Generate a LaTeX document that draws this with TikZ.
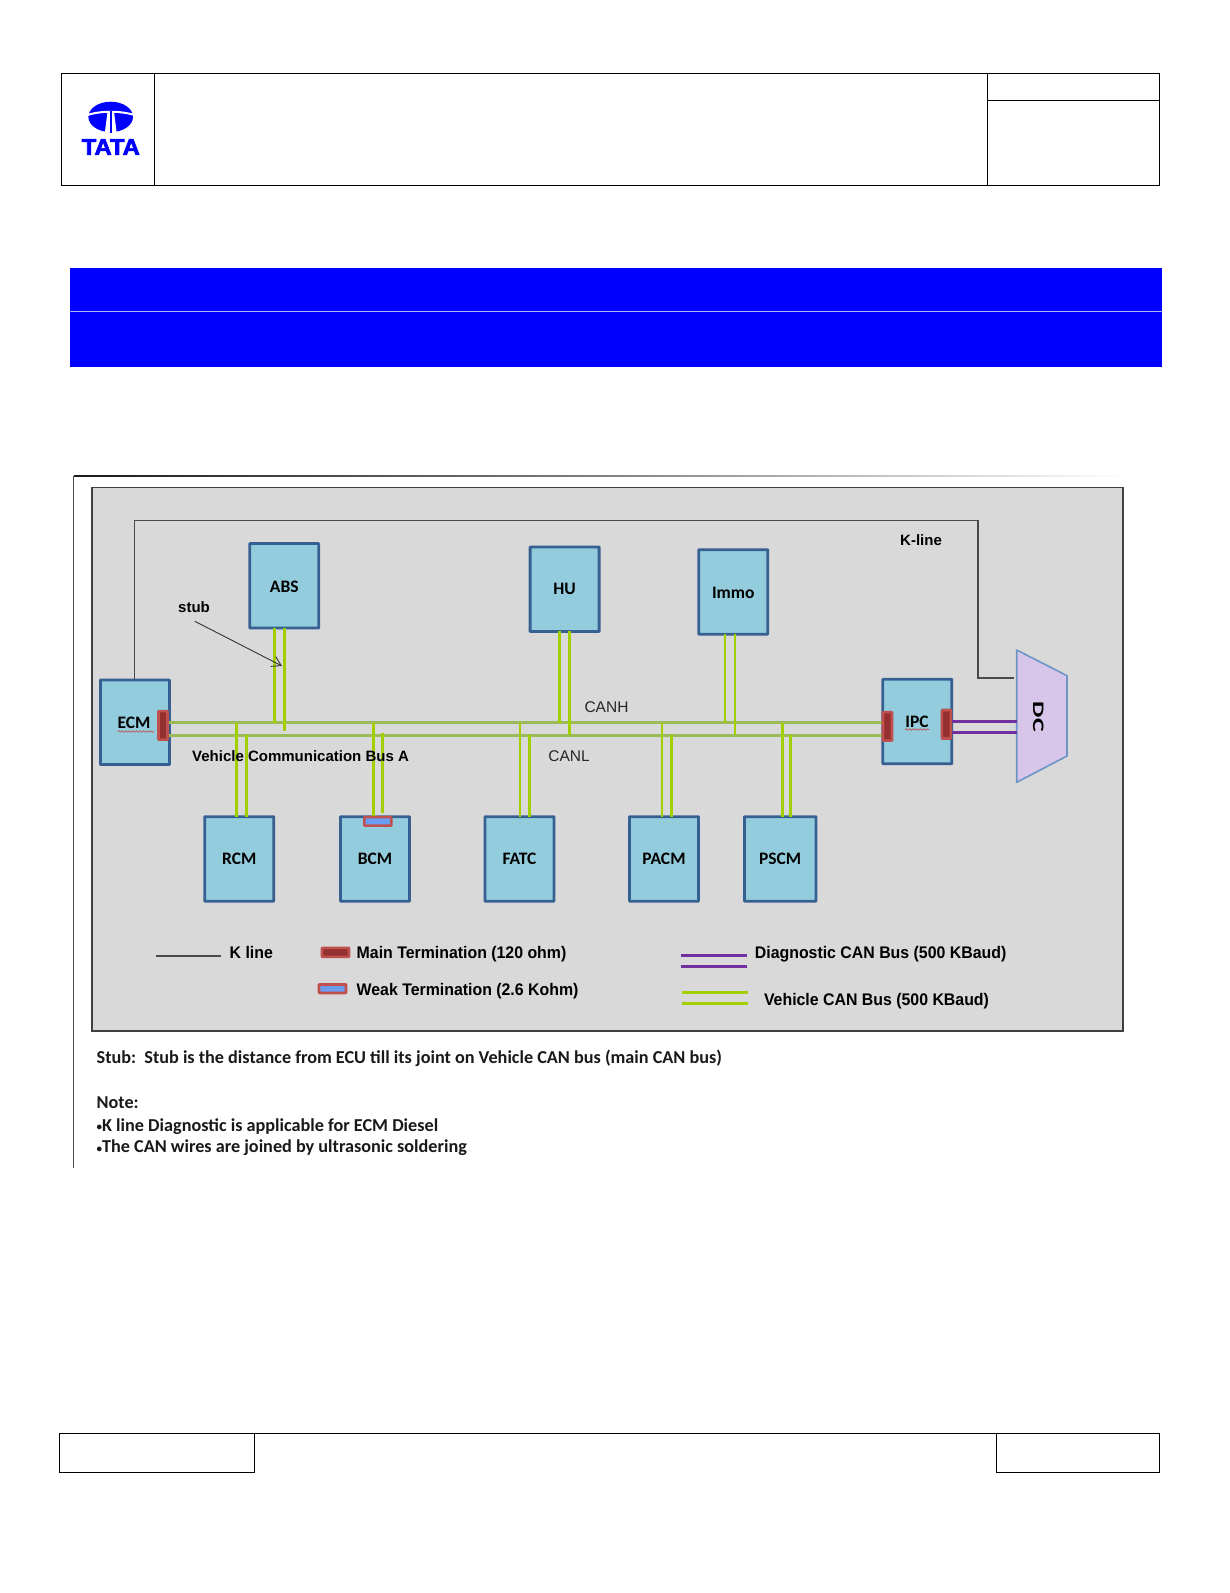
\documentclass[tikz,border=0pt]{standalone}
\usepackage{fontspec}
\setmainfont{Carlito}
\newfontfamily\arialf{Liberation Sans}
\newfontfamily\arialc[FakeStretch=0.945]{Liberation Sans}
\newfontfamily\logof[BoldFeatures={FakeBold=3}]{Liberation Sans}
\usetikzlibrary{calc,arrows.meta,decorations.pathmorphing}
\definecolor{tatablue}{HTML}{0000FF}
\definecolor{panelgray}{HTML}{D9D9D9}
\definecolor{boxfill}{HTML}{93CDDD}
\definecolor{boxline}{HTML}{376092}
\definecolor{busgreen}{HTML}{9BBB59}
\definecolor{stubgreen}{HTML}{A2CF00}
\definecolor{diagpurple}{HTML}{7030A0}
\definecolor{termred}{HTML}{C0504D}
\definecolor{termdark}{HTML}{953030}
\definecolor{weakblue}{HTML}{6C9BF2}
\definecolor{dcfill}{HTML}{D8C6EA}
\definecolor{dcline}{HTML}{6C94C4}
\definecolor{kgray}{HTML}{4A4A4A}
\tikzset{
  frameline/.style={draw=black,line width=0.9pt},
  unitbox/.style={draw=boxline,fill=boxfill,line width=2.8pt,minimum width=69pt,minimum height=84.5pt,inner sep=0pt,outer sep=0pt,rounded corners=0.5pt,font=\fontsize{17.5}{20}\selectfont\bfseries,text depth=0pt},
  termmain/.style={draw=termred,fill=termdark,line width=2.6pt,rounded corners=0.6pt,inner sep=0pt,outer sep=0pt},
  termweak/.style={draw=termred,fill=weakblue,line width=2.6pt,rounded corners=0.6pt,inner sep=0pt,outer sep=0pt},
  bus/.style={draw=busgreen,line width=2.7pt},
  stubw/.style={draw=stubgreen,line width=2.9pt},
  diag/.style={draw=diagpurple,line width=3pt},
  kline/.style={draw=kgray,line width=1.2pt},
  sanslabel/.style={font=\arialf\fontsize{15.5}{18}\selectfont,inner sep=0pt,text=black!85},
  legendtext/.style={font=\arialc\fontsize{16.8}{20}\selectfont\bfseries,inner sep=0pt,anchor=west,text=black},
  notetext/.style={font=\fontsize{18.2}{20}\selectfont\bfseries,inner sep=0pt,anchor=west,text=black!90},
  squiggle/.style={draw=termred,line width=0.7pt,decorate,decoration={snake,amplitude=0.8pt,segment length=3.5pt}}
}
\newcommand{\upstub}[3]{\draw[stubw] (#1,0 |- #2.south) -- (#1,0 |- #3);}
\newcommand{\downstub}[3]{\draw[stubw] (#1,0 |- #2) -- (#1,0 |- #3.north);}
\newcommand{\smallbul}{\raisebox{0.5pt}{\fontsize{11}{12}\selectfont•}}
\begin{document}
\begin{tikzpicture}[x=1pt,y=-1pt]
\useasboundingbox (0,0) rectangle (1230,1593);
\fill[white] (0,0) rectangle (1230,1593);
% header
\draw[frameline] (61,73.5) rectangle (1159.5,185);
\draw[frameline] (154.7,73.5) -- (154.7,185);
\draw[frameline] (987,73.5) -- (987,185);
\draw[frameline] (987,100) -- (1159.5,100);
% logo
\fill[tatablue] (110.7,116.9) ellipse [x radius=22.3,y radius=15.2];
\draw[white,line width=2pt] (86,115.5) .. controls (100,110.5) and (121,110.5) .. (136,115.5);
\fill[white] (107.5,112) -- (114,112) -- (117,135) -- (104.5,135) -- cycle;
\fill[tatablue] (109.9,111) rectangle (111.6,133);
\node[inner sep=0pt,text=tatablue] (logotext) at (110.8,147) {\resizebox{58pt}{15.5pt}{\logof\bfseries TATA}};
% blue bands
\fill[tatablue] (70,268) rectangle (1162,366.7);
\draw[white!70!tatablue,line width=0.3pt] (70,311) -- (1162,311);
% figure frame
\shade[left color=black!90,right color=black!50] (74,475.2) rectangle (600,476.2);
\shade[left color=black!50,right color=white] (600,475.2) rectangle (1127,476.2);
\draw[black!70,line width=0.8pt] (73.5,475.5) -- (73.5,1168);
% panel
\draw[draw=black!75,fill=panelgray,line width=1.8pt] (92,487.5) rectangle (1123,1031);
% k-line and boxes
\node[unitbox] (ABS) at (284.3,585.8) {\raisebox{-1pt}{ABS}};
\node[unitbox] (HU) at (564.6,589.2) {HU};
\node[unitbox] (Immo) at (733.3,591.9) {\raisebox{-1pt}{Immo}};
\node[unitbox] (ECM) at (134.9,722.2) {};
\node[unitbox] (IPC) at (917.3,721.5) {};
\node[unitbox] (RCM) at (239.3,858.9) {RCM};
\node[unitbox] (BCM) at (375,858.9) {BCM};
\node[unitbox] (FATC) at (519.5,858.9) {FATC};
\node[unitbox] (PACM) at (664,858.9) {PACM};
\node[unitbox,minimum width=71.5pt] (PSCM) at (780.2,858.9) {PSCM};
\node[font=\fontsize{17.5}{20}\selectfont\bfseries,inner sep=0pt] (ecmlabel) at (134,723) {ECM};
\node[font=\fontsize{17.5}{20}\selectfont\bfseries,inner sep=0pt] (ipclabel) at (917,722) {IPC};
\draw[squiggle] (118,731.5) -- (154,731.5);
\draw[squiggle] (905,729.5) -- (929,729.5);
% DC
\node[inner sep=0pt,outer sep=0pt,minimum width=1pt,minimum height=1pt] (DC) at (1042,716) {};
\draw[draw=dcline,fill=dcfill,line width=1.6pt,line join=round] (1016.7,650) -- (1067,675.7) -- (1067,756) -- (1016.7,782.3) -- cycle;
\node[inner sep=0pt,rotate=-90] (dclabel) at (1038.3,716.7) {\resizebox{30pt}{10.5pt}{\bfseries DC}};
% K line
\coordinate (kend) at (1014,678);
\draw[kline] (ECM.north) ++(-0.4,0) |- (978,520.7) |- (kend);
% bus
\coordinate (busH) at (880,722.7);
\coordinate (busL) at (880,735.3);
\draw[bus] (ECM.east |- busH) -- (IPC.west |- busH);
\draw[bus] (ECM.east |- busL) -- (IPC.west |- busL);
% stubs
\coordinate (absL) at (0,730.7);
\coordinate (bcmTop) at (0,733);
\upstub{274.7}{ABS}{busH}
\upstub{284.7}{ABS}{absL}
\upstub{559.6}{HU}{busH}
\upstub{569.8}{HU}{busL}
\upstub{725}{Immo}{busH}
\upstub{735}{Immo}{busL}
\downstub{236.7}{busH}{RCM}
\downstub{246.7}{busL}{RCM}
\downstub{373.3}{busH}{BCM}
\draw[stubw] (382.3,0 |- bcmTop) -- (382.3,813);
\downstub{520}{busH}{FATC}
\downstub{529.3}{busL}{FATC}
\downstub{662}{busH}{PACM}
\downstub{671.4}{busL}{PACM}
\downstub{782.3}{busH}{PSCM}
\downstub{790.3}{busL}{PSCM}
% terminators
\node[termmain,minimum width=9pt,minimum height=28.5pt] (tecm) at (163,725.3) {};
\node[termmain,minimum width=9pt,minimum height=28.5pt] (tipcl) at (887.5,726.3) {};
\node[termmain,minimum width=9pt,minimum height=28.5pt] (tipcr) at (946.3,724.2) {};
\node[termweak,minimum width=27pt,minimum height=8.5pt] (tbcm) at (377.8,821.3) {};
% diagnostic bus
\coordinate (diagA) at (0,721.7);
\coordinate (diagB) at (0,732);
\draw[diag] (IPC.east |- diagA) -- (1017,0 |- diagA);
\draw[diag] (IPC.east |- diagB) -- (1017,0 |- diagB);
% labels
\node[sanslabel] (canh) at (606.5,707.5) {CANH};
\node[sanslabel] (canl) at (569,756.5) {CANL};
\node[sanslabel,text=black] (kl) at (921,540) {\bfseries\fontsize{15}{18}\selectfont K-line};
\node[sanslabel,text=black] (stublabel) at (194,607.5) {\bfseries\fontsize{15}{18}\selectfont stub};
\node[sanslabel,anchor=west,text=black] (vcb) at (192,756) {\bfseries\fontsize{15}{18}\selectfont Vehicle Communication Bus A};
\coordinate (stubtip) at (282,666);
\draw[-{Straight Barb[length=9pt,width=11pt]},draw=black!80,line width=0.9pt] (stublabel.south) ++(0.7,8) -- (stubtip);
% legend
\coordinate (lk1) at (156.4,956); \coordinate (lk2) at (221.4,956);
\draw[kline] (lk1) -- (lk2);
\node[legendtext] (t1) at (229.5,952.5) {K line};
\node[termmain,minimum width=27pt,minimum height=9pt] (l1) at (335.5,952.3) {};
\node[legendtext] (t2) at (356.5,954) {Main Termination (120 ohm)};
\node[termweak,minimum width=27pt,minimum height=8.5pt] (l2) at (332.5,988.7) {};
\node[legendtext] (t3) at (356.5,991) {Weak Termination (2.6 Kohm)};
\coordinate (p1a) at (680.5,955); \coordinate (p1b) at (746.5,955);
\coordinate (p2a) at (680.5,966); \coordinate (p2b) at (746.5,966);
\draw[diag] (p1a) -- (p1b); \draw[diag] (p2a) -- (p2b);
\node[legendtext] (t4) at (754.7,954) {Diagnostic CAN Bus (500 KBaud)};
\coordinate (g1a) at (681.5,992.3); \coordinate (g1b) at (747.5,992.3);
\coordinate (g2a) at (681.5,1003.5); \coordinate (g2b) at (747.5,1003.5);
\draw[stubw] (g1a) -- (g1b); \draw[stubw] (g2a) -- (g2b);
\node[legendtext] (t5) at (763.8,1001) {Vehicle CAN Bus (500 KBaud)};
% notes
\node[notetext] (n1) at (96.5,1058.5) {Stub:\ \ Stub is the distance from ECU till its joint on Vehicle CAN bus (main CAN bus)};
\node[notetext] (n2) at (96.5,1103) {Note:};
\node[notetext] (n3) at (96.5,1126.5) {\smallbul K line Diagnostic is applicable for ECM Diesel};
\node[notetext] (n4) at (96.5,1148) {\smallbul The CAN wires are joined by ultrasonic soldering};
% footer
\draw[frameline] (59,1433.5) rectangle (254,1472);
\draw[frameline] (254,1433.5) -- (996,1433.5);
\draw[frameline] (996,1433.5) rectangle (1159,1472);
\end{tikzpicture}
\end{document}
